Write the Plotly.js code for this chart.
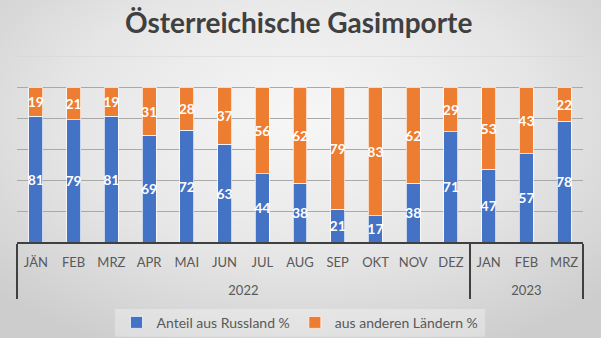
<!DOCTYPE html>
<html>
<head>
<meta charset="utf-8">
<script src="https://cdn.plot.ly/plotly-3.0.1.min.js"></script>
<style>
html,body{margin:0;padding:0;}
#chart{width:601px;height:338px;background:radial-gradient(ellipse 70% 75% at 50% 35%, #f7f7f7 0%, #e6e6e6 55%, #cdcdcd 100%);}
</style>
</head>
<body>
<div id="chart"></div>
<script>
const years = ["2022","2022","2022","2022","2022","2022","2022","2022","2022","2022","2022","2022","2023","2023","2023"];
// 2023 labels carry a zero-width space so the multicategory axis keeps JAN, FEB, MRZ in order
const months = ["JÄN","FEB","MRZ","APR","MAI","JUN","JUL","AUG","SEP","OKT","NOV","DEZ","JAN\u200B","FEB\u200B","MRZ\u200B"];
const russland = [81,79,81,69,72,63,44,38,21,17,38,71,47,57,78];
const andere = [19,21,19,31,28,37,56,62,79,83,62,29,53,43,22];
const seriesNames = ["Anteil aus Russland %","aus anderen Ländern %"];
const yGrid = [0,20,40,60,80,100];
const yMax = 120;

// blank second line under each month pushes the year row further down
const monthLabels = months.map(m => m + "<br>\u00a0");

const font = "Lato, 'Open Sans', sans-serif";
const mk = (vals, name, color) => ({
  type: 'bar',
  x: [years, monthLabels],
  y: vals,
  name: name,
  marker: {color: color, line: {color: 'rgba(255,255,255,0.7)', width: 1}},
  texttemplate: '%{y}',
  textposition: 'inside',
  insidetextanchor: 'middle',
  constraintext: 'none',
  textfont: {family: font, size: 14, color: '#ffffff', weight: 'bold'},
  hoverinfo: 'none'
});

const data = [
  mk(russland, seriesNames[0], '#4472C4'),
  mk(andere, seriesNames[1], '#ED7D31')
];

const layout = {
  width: 601, height: 338,
  paper_bgcolor: 'rgba(0,0,0,0)',
  plot_bgcolor: 'rgba(0,0,0,0)',
  margin: {l: 17, r: 18, t: 56, b: 96},
  barmode: 'stack',
  bargap: 0.63,
  showlegend: true,
  font: {family: font, color: '#595959', size: 13},
  title: {text: 'Österreichische Gasimporte', x: 0.497, xanchor: 'center', y: 0.93, yanchor: 'middle', yref: 'container',
          font: {family: font, size: 28, color: '#404040', weight: 'bold'}},
  xaxis: {
    type: 'multicategory',
    showline: true, linecolor: '#404040', linewidth: 2,
    showdividers: true, dividercolor: '#404040', dividerwidth: 2,
    tickfont: {family: font, size: 13, color: '#595959'},
    ticklabelstandoff: 7,
    ticks: '', showgrid: false, fixedrange: true
  },
  yaxis: {
    range: [0, yMax], tickmode: 'array', tickvals: yGrid, showticklabels: false,
    showgrid: true, gridcolor: '#a9a9a9', gridwidth: 1,
    zeroline: false, showline: false, ticks: '', fixedrange: true
  },
  legend: {
    orientation: 'h', x: 0.5, xanchor: 'center', yref: 'container', y: 0.045, yanchor: 'middle',
    bgcolor: 'rgba(0,0,0,0)', font: {family: font, size: 14, color: '#595959'},
    traceorder: 'normal', itemwidth: 30
  },
  shapes: [{
    type: 'rect', xref: 'paper', yref: 'paper', layer: 'below',
    x0: 0.173, x1: 0.827, y0: -0.36, y1: -0.51,
    fillcolor: 'rgba(255,255,255,0.3)', line: {width: 0}
  }, {
    type: 'line', xref: 'paper', yref: 'y', layer: 'below',
    x0: 0, x1: 1, y0: yMax, y1: yMax,
    line: {color: '#d4d4d4', width: 1}
  }]
};

Plotly.newPlot('chart', data, layout, {displayModeBar: false, staticPlot: true});
</script>
</body>
</html>
